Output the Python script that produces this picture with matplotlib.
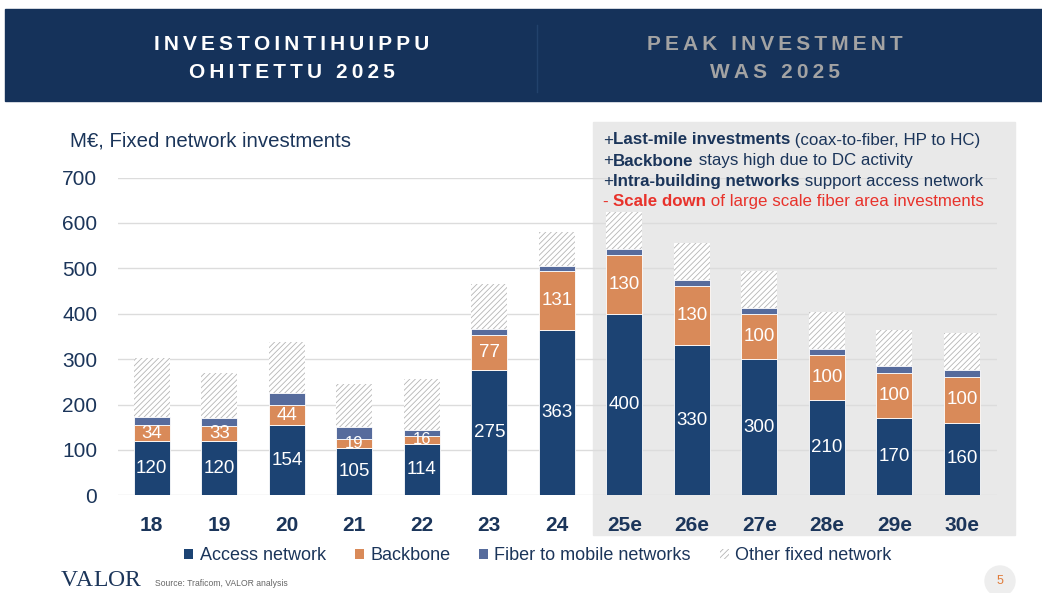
import matplotlib.pyplot as plt
from matplotlib.patches import Rectangle, Patch, Ellipse

# data
years = ['18', '19', '20', '21', '22', '23', '24', '25e', '26e', '27e', '28e', '29e', '30e']
access = [120, 120, 154, 105, 114, 275, 363, 400, 330, 300, 210, 170, 160]
backbone = [34, 33, 44, 19, 16, 77, 131, 130, 130, 100, 100, 100, 100]
fiber = [18, 17, 28, 26, 13, 14, 12, 13, 14, 13, 13, 14, 15]
other = [130, 100, 112, 96, 114, 99, 74, 82, 81, 82, 81, 81, 82]
yticks = [0, 100, 200, 300, 400, 500, 600, 700]

NAVY = '#1c4373'
ORANGE = '#d98a59'
BLUE = '#566b9c'
TXT = '#1b355a'

W, H = 1042, 593

plt.rcParams['font.family'] = ['Liberation Sans', 'DejaVu Sans']
plt.rcParams['hatch.linewidth'] = 0.6


def fx(px):
    return px / W


def fy(py):
    return 1 - py / H


def spaced(s, sep='\u2009'):
    return sep.join(s)


fig = plt.figure(figsize=(W / 100, H / 100), dpi=100)

# header band
fig.patches.append(Rectangle((fx(5), fy(101)), 1 - fx(5), fy(9) - fy(101),
                             transform=fig.transFigure, color='#15325a', zorder=-2))
fig.lines.append(plt.Line2D([fx(537), fx(537)], [fy(25), fy(92)], transform=fig.transFigure,
                            color='#22426c', lw=1))
for txt, xx, yy, c in [('INVESTOINTIHUIPPU', 292, 45, 'white'),
                       ('OHITETTU 2025', 292, 73, 'white'),
                       ('PEAK INVESTMENT', 775, 45, '#a3a3a3'),
                       ('WAS 2025', 775, 73, '#a3a3a3')]:
    fig.text(fx(xx), fy(yy), spaced(txt), color=c, fontsize=15, fontweight='bold',
             ha='center', va='center')

# gray forecast panel
fig.patches.append(Rectangle((fx(593), fy(535)), fx(1015) - fx(593), fy(122) - fy(535),
                             transform=fig.transFigure, color='#e9e9e9', zorder=-2))

ax = fig.add_axes([fx(118), fy(495.3), fx(997) - fx(118), fy(177.5) - fy(495.3)])
ax.patch.set_alpha(0)

x = list(range(len(years)))
bw = 0.53
b1 = [a + b for a, b in zip(access, backbone)]
b2 = [a + f for a, f in zip(b1, fiber)]

ax.bar(x, access, bw, color=NAVY, edgecolor='white', linewidth=0.6, zorder=3)
ax.bar(x, backbone, bw, bottom=access, color=ORANGE, edgecolor='white', linewidth=0.6, zorder=3)
ax.bar(x, fiber, bw, bottom=b1, color=BLUE, edgecolor='white', linewidth=0.6, zorder=3)
ax.bar(x, other, bw, bottom=b2, color='white', edgecolor='#b5b5b5', hatch='//////',
       linewidth=0, zorder=3)

for i in x:
    ax.text(i, access[i] / 2, str(access[i]), color='white', fontsize=13.5,
            ha='center', va='center', zorder=4)
    fs = 13.5 if backbone[i] > 25 else 12
    ax.text(i, access[i] + backbone[i] / 2, str(backbone[i]), color='white', fontsize=fs,
            ha='center', va='center', zorder=4)

ax.set_ylim(0, 700)
ax.set_xlim(-0.5, 12.52)
ax.set_yticks(yticks)
ax.set_xticks(x)
ax.set_xticklabels(years, fontweight='bold')
ax.tick_params(axis='both', length=0, labelsize=15, labelcolor=TXT)
ax.tick_params(axis='x', pad=15)
ax.tick_params(axis='y', pad=15)
ax.grid(axis='y', color='#dcdcdc', lw=1, zorder=0)
for s in ax.spines.values():
    s.set_visible(False)

fig.text(fx(70), fy(141), 'M€, Fixed network investments', color=TXT, fontsize=14.7,
         ha='left', va='center')

# commentary in the panel
lines = [
    ('+', 'Last-mile investments', ' (coax-to-fiber, HP to HC)', TXT),
    ('+', 'Backbone', ' stays high due to DC activity', TXT),
    ('+', 'Intra-building networks', ' support access network', TXT),
    ('- ', 'Scale down', ' of large scale fiber area investments', '#e8322b'),
]
ys = [140, 161, 181.5, 201.5]
for (pre, bold, rest, c), yy in zip(lines, ys):
    t1 = fig.text(fx(603), fy(yy), pre, color=c, fontsize=12.2, va='center')
    a2 = ax.annotate(bold, xycoords=t1, xy=(1, 0.5), va='center', ha='left',
                     color=c, fontsize=12.2, fontweight='bold', annotation_clip=False)
    ax.annotate(rest, xycoords=a2, xy=(1, 0.5), va='center', ha='left',
                color=c, fontsize=12.2, annotation_clip=False)

handles = [
    Patch(facecolor=NAVY, label='Access network'),
    Patch(facecolor=ORANGE, label='Backbone'),
    Patch(facecolor=BLUE, label='Fiber to mobile networks'),
    Patch(facecolor='white', edgecolor='#b5b5b5', hatch='//////', linewidth=0,
          label='Other fixed network'),
]
leg = fig.legend(handles=handles, loc='center', bbox_to_anchor=(fx(538), fy(556)), ncol=4,
                 frameon=False, handlelength=0.5, handleheight=0.5, handletextpad=0.35,
                 columnspacing=1.6, fontsize=13)
for t in leg.get_texts():
    t.set_color(TXT)

# footer
for k, ch in enumerate('VALOR'):
    fig.text(fx(69 + 15.75 * k), fy(581), ch, color=TXT, fontsize=17,
             family='Liberation Serif', ha='center', va='center')
fig.text(fx(155), fy(583.5), 'Source: Traficom, VALOR analysis', color='#666666',
         fontsize=6.2, va='center')
fig.patches.append(Ellipse((fx(1000), fy(581)), 30 / W, 30 / H, transform=fig.transFigure,
                           color='#eeeeee'))
fig.text(fx(1000), fy(581), '5', color='#e07b39', fontsize=9, ha='center', va='center')

fig.savefig('out.png', dpi=100)
